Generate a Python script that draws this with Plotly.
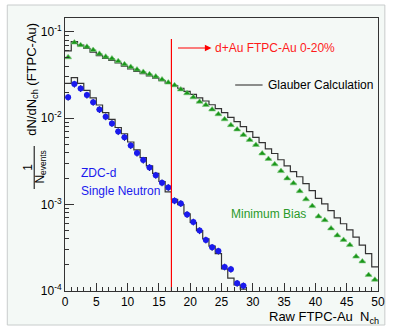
import plotly.graph_objects as go

# ---------------- data ----------------
zdc_x = [i + 0.5 for i in range(29)]
zdc_y = [0.0175, 0.0248, 0.0221, 0.0185, 0.0153, 0.0126, 0.0104, 0.0087, 0.0070, 0.0060,
         0.00482, 0.00394, 0.00327, 0.00269, 0.00219, 0.00179, 0.00158, 0.00111, 0.00103, 0.00077,
         0.00063, 0.00050, 0.00039, 0.00032, 0.00029, 0.00019, 0.000179, 0.000123, 0.000115]

zdc_glauber = [0.0252, 0.0295, 0.0252, 0.0210, 0.0172, 0.0142, 0.0116, 0.0097, 0.0078, 0.0066,
               0.0053, 0.0043, 0.0035, 0.0028, 0.0023, 0.00185, 0.00140, 0.00115, 0.00100, 0.00078,
               0.00062, 0.00050, 0.00040, 0.00033, 0.00027, 0.00018, 0.000141, 0.000118, 0.000105]

mb_x = [i + 0.5 for i in range(50)]
mb_y = [0.0506, 0.075, 0.070, 0.067, 0.0615, 0.0555, 0.0515, 0.049, 0.0457, 0.0420,
        0.0392, 0.0365, 0.0343, 0.0322, 0.0303, 0.0280, 0.0258, 0.0240, 0.0215, 0.0194,
        0.0174, 0.0155, 0.0142, 0.0126, 0.0111, 0.0097, 0.0083, 0.0074, 0.0064, 0.0056,
        0.0049, 0.0039, 0.00337, 0.00292, 0.00244, 0.00201, 0.00176, 0.00143, 0.00115, 0.00096,
        0.00073, 0.00066, 0.00053, 0.00044, 0.00039, 0.00034, 0.00025, 0.00022, 0.000153, 0.000135]

mb_glauber = [0.060, 0.077, 0.070, 0.064, 0.058, 0.053, 0.049, 0.0465, 0.0435, 0.0400,
              0.0372, 0.0348, 0.0328, 0.0308, 0.0290, 0.0272, 0.0254, 0.0238, 0.0222, 0.0204,
              0.0188, 0.0172, 0.0158, 0.0143, 0.0129, 0.0116, 0.0102, 0.0091, 0.0080, 0.0070,
              0.0060, 0.0052, 0.0044, 0.0039, 0.0033, 0.0028, 0.0024, 0.0021, 0.00175, 0.00145,
              0.00118, 0.00102, 0.00085, 0.00070, 0.00060, 0.00051, 0.00042, 0.00034, 0.00027, 0.00019]

cut_x = 17
cut_ytop = 0.0824

x_ticks = [0, 5, 10, 15, 20, 25, 30, 35, 40, 45, 50]
y_ticks = [1e-4, 1e-3, 1e-2, 1e-1]
y_ticktext = ["10<sup>-4</sup>", "10<sup>-3</sup>", "10<sup>-2</sup>", "10<sup>-1</sup>"]

# ---------------- figure ----------------
FONT = "Liberation Sans, Arial, sans-serif"
W, H = 394, 330
L, R, T, B = 65, 9, 18, 39
PW, PH = W - L - R, H - T - B


def px(x):
    return (x - L) / PW


def py(y):
    return (H - B - y) / PH


def steps(vals):
    xs = list(range(len(vals) + 1))
    ys = list(vals) + [vals[-1]]
    return xs, ys


fig = go.Figure()

gx, gy = steps(mb_glauber)
fig.add_trace(go.Scatter(x=gx, y=gy, mode="lines", line=dict(color="#333333", width=1.2, shape="hv"),
                         hoverinfo="skip", showlegend=False))
zx, zy = steps(zdc_glauber)
fig.add_trace(go.Scatter(x=zx, y=zy, mode="lines", line=dict(color="#333333", width=1.2, shape="hv"),
                         hoverinfo="skip", showlegend=False))

fig.add_trace(go.Scatter(x=mb_x, y=mb_y, mode="markers",
                         marker=dict(symbol="triangle-up", size=6, color="#1a961a",
                                     line=dict(color="#79c679", width=0.6)),
                         error_x=dict(type="constant", value=0.5, thickness=0.8, width=0, color="#55b055"),
                         showlegend=False))
fig.add_trace(go.Scatter(x=zdc_x, y=zdc_y, mode="markers",
                         marker=dict(symbol="circle", size=6, color="#1a1aee"),
                         error_x=dict(type="constant", value=0.45, thickness=1, width=0, color="#101060"),
                         error_y=dict(type="percent", value=9, thickness=1, width=0, color="#101060"),
                         showlegend=False))

# centrality cut line
fig.add_trace(go.Scatter(x=[cut_x, cut_x], y=[cut_ytop, y_ticks[0]], mode="lines",
                         line=dict(color="#ff0000", width=1.2), hoverinfo="skip", showlegend=False))

# outer panel
fig.add_shape(type="rect", xref="paper", yref="paper",
              x0=px(6), x1=px(392), y0=py(325), y1=py(5),
              fillcolor="#f4f9f6", line=dict(color="#c8cccc", width=1), layer="below")

# Glauber legend line
fig.add_shape(type="line", xref="paper", yref="paper",
              x0=px(239), x1=px(267), y0=py(85), y1=py(85),
              line=dict(color="#444444", width=1.2))

# fraction bar of y title
fig.add_shape(type="line", xref="paper", yref="paper",
              x0=px(33.5), x1=px(33.5), y0=py(146), y1=py(189),
              line=dict(color="black", width=1))

ann = []
# arrow
ann.append(dict(x=23.4, y=py(48), xref="x", yref="paper", ax=-35, ay=0,
                axref="pixel", ayref="pixel", showarrow=True, arrowhead=2, arrowsize=1.1,
                arrowwidth=1.2, arrowcolor="#ff0000", text=""))
ann.append(dict(x=px(216), y=py(48), xref="paper", yref="paper", text="d+Au FTPC-Au 0-20%",
                showarrow=False, xanchor="left", yanchor="middle",
                font=dict(family=FONT, size=12, color="#ff1a1a")))
ann.append(dict(x=px(271), y=py(85), xref="paper", yref="paper", text="Glauber Calculation",
                showarrow=False, xanchor="left", yanchor="middle",
                font=dict(family=FONT, size=12, color="black")))
ann.append(dict(x=px(79), y=py(173), xref="paper", yref="paper", text="ZDC-d",
                showarrow=False, xanchor="left", yanchor="middle",
                font=dict(family=FONT, size=12, color="#1a1aee")))
ann.append(dict(x=px(79), y=py(191), xref="paper", yref="paper", text="Single Neutron",
                showarrow=False, xanchor="left", yanchor="middle",
                font=dict(family=FONT, size=12, color="#1a1aee")))
ann.append(dict(x=px(233), y=py(214), xref="paper", yref="paper", text="Minimum Bias",
                showarrow=False, xanchor="left", yanchor="middle",
                font=dict(family=FONT, size=12, color="#2a9a2a")))
ann.append(dict(x=px(388), y=py(317), xref="paper", yref="paper",
                text="Raw FTPC-Au  N<sub>ch</sub>",
                showarrow=False, xanchor="right", yanchor="middle",
                font=dict(family=FONT, size=13, color="black")))
# y title
ann.append(dict(x=px(31), y=py(79), xref="paper", yref="paper",
                text="dN/dN<sub>ch</sub> (FTPC-Au)", textangle=-90,
                showarrow=False, xanchor="center", yanchor="middle",
                font=dict(family=FONT, size=13, color="black")))
ann.append(dict(x=px(27), y=py(167), xref="paper", yref="paper",
                text="1", textangle=-90,
                showarrow=False, xanchor="center", yanchor="middle",
                font=dict(family=FONT, size=12, color="black")))
ann.append(dict(x=px(40), y=py(167), xref="paper", yref="paper",
                text="N<sub>events</sub>", textangle=-90,
                showarrow=False, xanchor="center", yanchor="middle",
                font=dict(family=FONT, size=12, color="black")))

minor_y = [m * 10 ** e for e in (-4, -3, -2, -1) for m in range(2, 10) if m * 10 ** e < 0.145]

fig.update_layout(
    width=W, height=H,
    margin=dict(l=L, r=R, t=T, b=B, pad=0),
    paper_bgcolor="white", plot_bgcolor="#f4f9f6",
    showlegend=False,
    annotations=ann,
    font=dict(family=FONT, size=12, color="black"),
    xaxis=dict(range=[0, 50], tickvals=x_ticks, ticks="inside", ticklen=8, tickwidth=1,
               tickcolor="#333", showgrid=False, zeroline=False, showline=True, mirror=True,
               linecolor="#333", linewidth=1, tickfont=dict(size=12, family=FONT),
               minor=dict(dtick=1, ticks="inside", ticklen=4, tickcolor="#333", showgrid=False)),
    yaxis=dict(type="log", range=[-4, -0.841], tickvals=y_ticks, ticktext=y_ticktext,
               ticks="inside", ticklen=9, tickwidth=1, tickcolor="#333",
               showgrid=False, zeroline=False, showline=True, mirror=True,
               linecolor="#333", linewidth=1, tickfont=dict(size=12, family=FONT),
               minor=dict(tickvals=minor_y, ticks="inside", ticklen=4, tickcolor="#333", showgrid=False)),
)

fig.write_html("out.html", config={"displayModeBar": False},
               post_script="document.body.style.margin='0px';document.body.style.overflow='hidden';")
